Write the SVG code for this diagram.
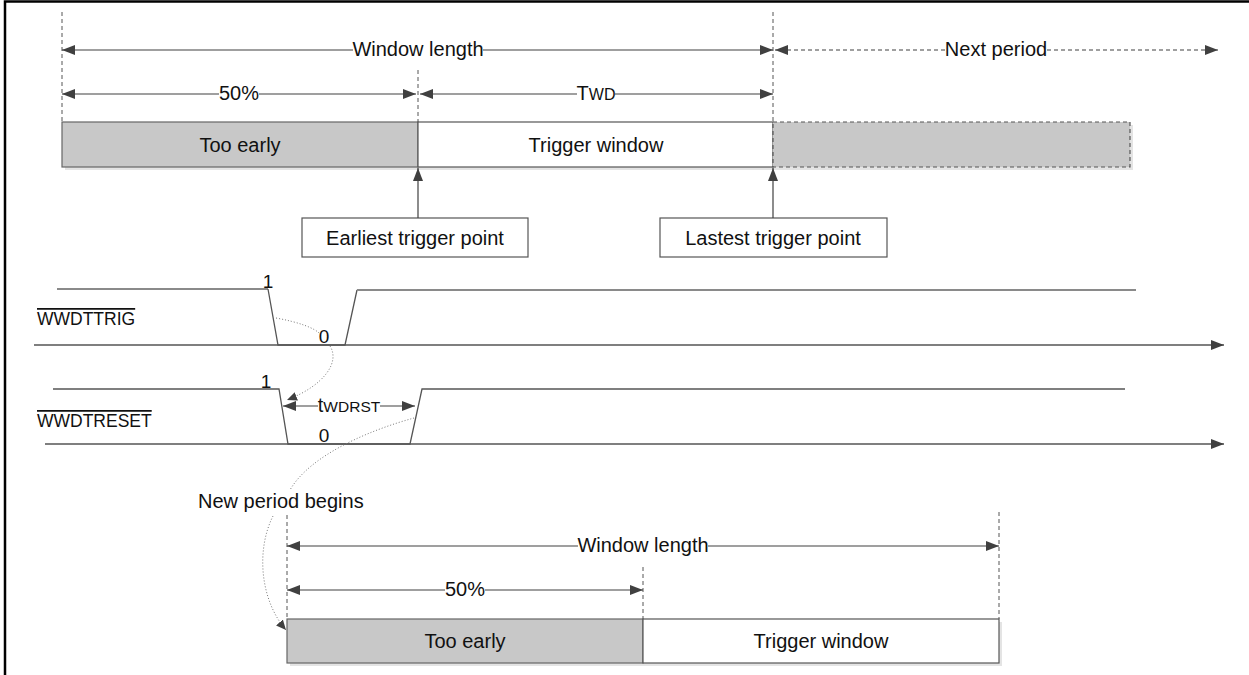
<svg xmlns="http://www.w3.org/2000/svg" width="1249" height="675" viewBox="0 0 1249 675">
<defs>
<marker id="ah" markerUnits="userSpaceOnUse" markerWidth="14" markerHeight="11" refX="13" refY="5" orient="auto-start-reverse"><path d="M0,0 L13,5 L0,10 z" fill="#404040"/></marker>
<marker id="ahs" markerUnits="userSpaceOnUse" markerWidth="11" markerHeight="10" refX="10" refY="4.5" orient="auto"><path d="M0,0 L10,4.5 L0,9 z" fill="#404040"/></marker>
<style>
text{font-family:"Liberation Sans",Arial,sans-serif;font-size:20px;fill:#111}
.t{text-anchor:middle}
.sig{font-size:17.5px;text-decoration:overline}
.num{font-size:19px}
.dim{stroke:#404040;stroke-width:1.2;fill:none}
.dash{stroke:#555;stroke-width:1;stroke-dasharray:4,3;fill:none}
.gray{fill:#c8c8c8;stroke:#666;stroke-width:1.2}
.white{fill:#fff;stroke:#555;stroke-width:1.2}
.shadow{fill:#e4e4e4}
.wave{stroke:#555;stroke-width:1.3;fill:none}
.hi{stroke:#8a8a8a;stroke-width:1.8;fill:none}
.dot{stroke:#777;stroke-width:1;stroke-dasharray:1,2;fill:none}
</style>
</defs>
<path d="M5,675 V1.5 H1249" stroke="#000" stroke-width="2.5" fill="none"/>

<g id="top-guides">
<line class="dash" x1="62" y1="12" x2="62" y2="122"/>
<line class="dash" x1="418" y1="70" x2="418" y2="122"/>
<line class="dash" x1="773" y1="12" x2="773" y2="122"/>
</g>

<g id="top-bars">
<rect class="shadow" x="65" y="125" width="1068" height="45"/>
<rect id="too-early" class="gray" x="62" y="122" width="356" height="45"/>
<text class="t" x="240" y="152">Too early</text>
<rect id="trigger-window" class="white" x="418" y="122" width="355" height="45"/>
<text class="t" x="596" y="152">Trigger window</text>
<rect id="next-period-bar" x="773" y="122" width="357" height="45" fill="#c8c8c8" stroke="#555" stroke-width="1.2" stroke-dasharray="4,3"/>
</g>

<g id="earliest-box">
<rect class="white" x="302" y="218" width="226" height="39"/>
<text class="t" x="415" y="245">Earliest trigger point</text>
</g>
<g id="lastest-box">
<rect class="white" x="660" y="218" width="227" height="39"/>
<text class="t" x="773" y="245">Lastest trigger point</text>
</g>

<g id="bottom-guides">
<line class="dash" x1="287" y1="515" x2="287" y2="619"/>
<line class="dash" x1="643" y1="567" x2="643" y2="619"/>
<line class="dash" x1="999" y1="512" x2="999" y2="619"/>
</g>

<g id="bottom-bars">
<rect class="shadow" x="290" y="622" width="712" height="44"/>
<rect id="too-early-2" class="gray" x="287" y="619" width="356" height="44"/>
<text class="t" x="465" y="648">Too early</text>
<rect id="trigger-window-2" class="white" x="643" y="619" width="356" height="44"/>
<text class="t" x="821" y="648">Trigger window</text>
</g>

<g id="signals">
<path class="hi" d="M57,289 H268"/>
<path class="wave" d="M268,289 L278,345 H345 L357,290"/>
<path class="hi" d="M357,290 H1136"/>
<line class="wave" x1="34" y1="345" x2="1224" y2="345" marker-end="url(#ah)"/>
<text class="sig" x="37" y="325">WWDTTRIG</text>
<text class="t num" x="268" y="288">1</text>
<text class="t num" x="324" y="343">0</text>

<path class="wave" d="M53,389 H279 L288,444 H410 L422,389 H1125"/>
<line class="wave" x1="45" y1="444" x2="1224" y2="444" marker-end="url(#ah)"/>
<text class="sig" x="37" y="427">WWDTRESET</text>
<text class="t num" x="266" y="388">1</text>
<text class="t num" x="324" y="442">0</text>
<text class="t" x="349" y="412">t<tspan style="font-size:15.5px">WDRST</tspan></text>
<text x="198" y="508">New period begins</text>
</g>

<g id="labels">
<text class="t" x="418" y="56">Window length</text>
<text class="t" x="996" y="56">Next period</text>
<text class="t" x="239" y="100">50%</text>
<text class="t" x="596" y="100">T<tspan style="font-size:16px">WD</tspan></text>
<text class="t" x="643" y="552">Window length</text>
<text class="t" x="465" y="596">50%</text>
</g>

<g id="connectors">
<line class="dim" x1="353" y1="50" x2="62" y2="50" marker-end="url(#ah)"/>
<line class="dim" x1="483" y1="50" x2="773" y2="50" marker-end="url(#ah)"/>
<line class="dim" x1="945" y1="50" x2="775" y2="50" stroke-dasharray="4,3" marker-end="url(#ah)"/>
<line class="dim" x1="1047" y1="50" x2="1218" y2="50" stroke-dasharray="4,3" marker-end="url(#ah)"/>
<line class="dim" x1="219" y1="94" x2="62" y2="94" marker-end="url(#ah)"/>
<line class="dim" x1="259" y1="94" x2="416" y2="94" marker-end="url(#ah)"/>
<line class="dim" x1="577" y1="94" x2="420" y2="94" marker-end="url(#ah)"/>
<line class="dim" x1="615" y1="94" x2="773" y2="94" marker-end="url(#ah)"/>
<line class="dim" x1="418" y1="218" x2="418" y2="168" marker-end="url(#ah)"/>
<line class="dim" x1="773" y1="218" x2="773" y2="168" marker-end="url(#ah)"/>
<line class="dim" x1="318" y1="406" x2="283" y2="406" marker-end="url(#ah)"/>
<line class="dim" x1="380" y1="406" x2="415" y2="406" marker-end="url(#ah)"/>
<line class="dim" x1="578" y1="546" x2="287" y2="546" marker-end="url(#ah)"/>
<line class="dim" x1="708" y1="546" x2="999" y2="546" marker-end="url(#ah)"/>
<line class="dim" x1="445" y1="590" x2="287" y2="590" marker-end="url(#ah)"/>
<line class="dim" x1="485" y1="590" x2="643" y2="590" marker-end="url(#ah)"/>
<path class="dot" d="M276,318 C298,322 315,328 320,334 M330,346 C340,362 325,385 287,400" marker-end="url(#ahs)"/>
<path class="dot" d="M414,418 C370,430 310,455 290,490"/>
<path class="dot" d="M273,516 C256,550 260,600 286,630" marker-end="url(#ahs)"/>
</g>
</svg>
